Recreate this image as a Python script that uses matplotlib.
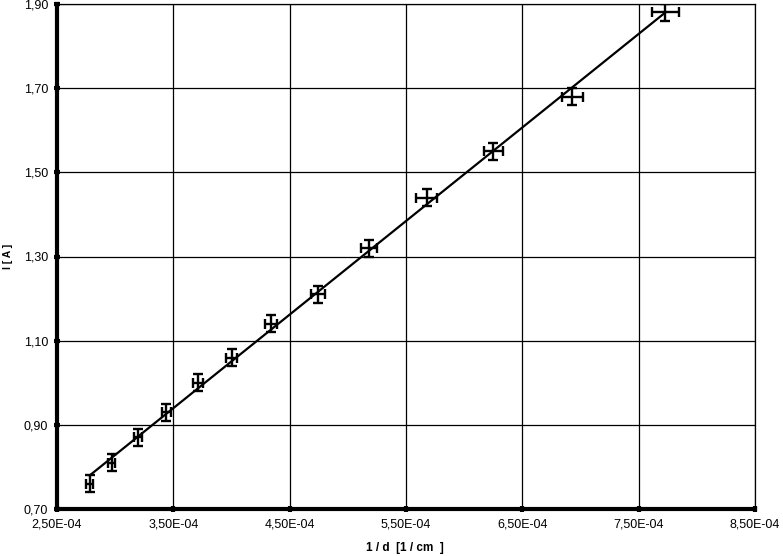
import matplotlib.pyplot as plt
import numpy as np
from matplotlib.ticker import FuncFormatter, FixedLocator

plt.rcParams['font.family'] = ['Liberation Sans', 'DejaVu Sans']

# 1/d in units of 1E-04 1/cm
inv_d = np.array([2.78, 2.97, 3.20, 3.44, 3.71, 4.00, 4.34, 4.74, 5.18, 5.68, 6.25, 6.93, 7.73])
current = np.array([0.76, 0.81, 0.87, 0.93, 1.00, 1.06, 1.14, 1.21, 1.32, 1.44, 1.55, 1.68, 1.88])
inv_d_err = np.array([0.03, 0.032, 0.034, 0.037, 0.043, 0.046, 0.053, 0.06, 0.069, 0.09, 0.083, 0.093, 0.116])
current_err = np.full(len(current), 0.02)

x_ticks = [2.5, 3.5, 4.5, 5.5, 6.5, 7.5, 8.5]
y_ticks = [0.70, 0.90, 1.10, 1.30, 1.50, 1.70, 1.90]

fig = plt.figure(figsize=(7.83, 5.56), dpi=100)
ax = fig.add_axes([57 / 783, 47 / 556, 698 / 783, 505 / 556])

# linear trend line
k, b = np.polyfit(inv_d, current, 1)
xl = np.array([inv_d[0], inv_d[-1]])
ax.plot(xl, k * xl + b, color="black", lw=1.6, zorder=3)

ax.errorbar(inv_d, current, xerr=inv_d_err, yerr=current_err, fmt="none",
            ecolor="black", elinewidth=1.7, capsize=3.8, capthick=1.7, zorder=4)

ax.set_xlim(2.5, 8.5)
ax.set_ylim(0.70, 1.90)
ax.xaxis.set_major_locator(FixedLocator(x_ticks))
ax.yaxis.set_major_locator(FixedLocator(y_ticks))
ax.xaxis.set_major_formatter(FuncFormatter(lambda v, p: f"{v:.2f}".replace(".", ",") + "E-04"))
ax.yaxis.set_major_formatter(FuncFormatter(lambda v, p: f"{v:.2f}".replace(".", ",")))

ax.grid(True, color="black", lw=0.9)
ax.set_axisbelow(True)
for s in ["top", "right"]:
    ax.spines[s].set_linewidth(0.9)
for s in ["left", "bottom"]:
    ax.spines[s].set_linewidth(3.0)
ax.tick_params(direction="inout", length=5, width=3, labelsize=9, pad=4)

ax.set_xlabel("1 / d  [1 / cm  ]", fontsize=8.5, fontweight="bold")
ax.xaxis.set_label_coords(348 / 698, -33 / 505)
ax.set_ylabel("I [ A ]", fontsize=7.5, fontweight="bold")
ax.yaxis.set_label_coords(-44 / 698, 0.5)

fig.savefig("out.png", dpi=100)
